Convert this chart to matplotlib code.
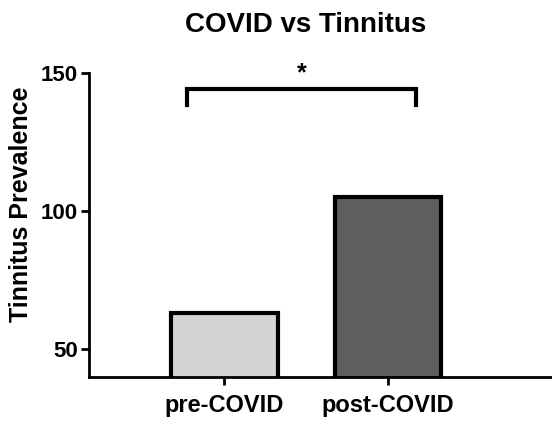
import matplotlib
matplotlib.use('Agg')
import matplotlib.pyplot as plt

# data
groups = ['pre-COVID', 'post-COVID']
prevalence = [63, 105]
bar_colors = ['#d4d4d4', '#5e5e5e']
bracket_y = 144.2
bracket_drop = 138.5
bracket_x = [-0.23, 1.17]

plt.rcParams['font.family'] = ['Liberation Sans', 'DejaVu Sans']
plt.rcParams['font.weight'] = 'bold'

fig = plt.figure(figsize=(5.52, 4.21), dpi=100)
ax = fig.add_axes([89 / 552, 1 - 377 / 421, 1 - 89 / 552, (377 - 73) / 421])

x = range(len(groups))
ax.bar(x, prevalence, width=0.65, bottom=0, color=bar_colors,
       edgecolor='black', linewidth=3, zorder=2)

ax.set_ylim(40, 150)
ax.set_xlim(-0.826, 2.0)
ax.set_yticks([50, 100, 150])
ax.set_xticks(list(x))
ax.set_xticklabels(groups, fontsize=17, fontweight='bold')
ax.tick_params(axis='y', labelsize=16, length=6, width=2, pad=2)
ax.tick_params(axis='x', length=6, width=2, pad=6)
for lab in ax.get_yticklabels():
    lab.set_fontweight('bold')

ax.spines['top'].set_visible(False)
ax.spines['right'].set_visible(False)
ax.spines['left'].set_linewidth(2)
ax.spines['bottom'].set_linewidth(2)
ax.spines['left'].set_bounds(40, 150)

ax.set_ylabel('Tinnitus Prevalence', fontsize=18, fontweight='bold')
ax.yaxis.set_label_coords(-0.121, 0.569)

# significance bracket
ax.plot([bracket_x[0], bracket_x[0], bracket_x[1], bracket_x[1]],
        [bracket_drop, bracket_y, bracket_y, bracket_drop],
        color='black', linewidth=3, clip_on=False, solid_joinstyle='miter')
ax.text(sum(bracket_x) / 2, bracket_y + 1.5, '*', ha='center', va='bottom',
        fontsize=18, fontweight='bold')

fig.text(306 / 552, 1 - 25 / 421, 'COVID vs Tinnitus', ha='center', va='center',
         fontsize=20, fontweight='bold')

fig.savefig('out.png', dpi=100)
